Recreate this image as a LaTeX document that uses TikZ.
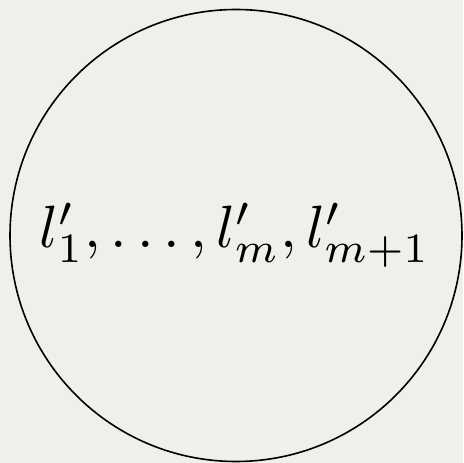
\documentclass[tikz,border=0pt]{standalone}
\usepackage{amsmath}
\usetikzlibrary{positioning}
\definecolor{paper}{HTML}{F0EFE9}
\tikzset{
listcircle/.style={draw, line width=1.6pt},
listlabel/.style={scale=5.97, anchor=base, inner sep=0pt}
}
\begin{document}
\begin{tikzpicture}[x=1pt, y=1pt]
\fill[paper] (0,0) rectangle (463,463);
\useasboundingbox (0,0) rectangle (463,463);
\node[listcircle, circle, minimum size=452pt] (set) at (236,227.5) {};
\node[listlabel] (elems) at (235,215) {$l'_1,\ldots,l'_m,l'_{m+1}$};
\end{tikzpicture}
\end{document}
